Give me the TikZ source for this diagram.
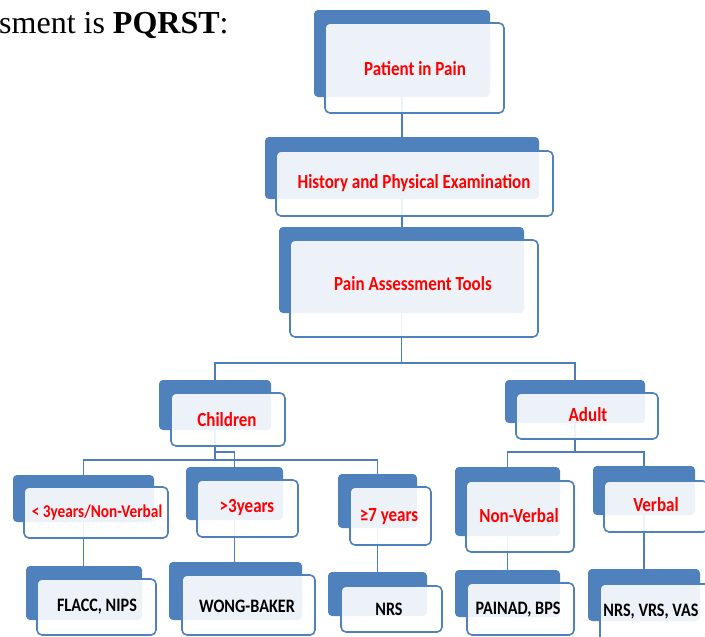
\documentclass[tikz,border=0pt]{standalone}
\usepackage{fontspec}
\setmainfont{Liberation Serif}
\newfontfamily\calfont{Carlito}
\usepackage{graphicx}
\usetikzlibrary{fit,backgrounds}
\definecolor{boxblue}{HTML}{4F81BD}
\definecolor{lineblue}{HTML}{4A7EBD}
\definecolor{txtred}{HTML}{FF0000}
\newcommand{\lab}[1]{\scalebox{0.85}[1]{#1}}
\begin{document}
\begin{tikzpicture}[x=1pt,y=-1pt,
  backbox/.style={fill=boxblue, draw=none, rounded corners=4pt, inner sep=0pt},
  frontbox/.style={fill=white, fill opacity=0.9, draw=boxblue, line width=1.6pt, rounded corners=5pt, inner sep=0pt},
  redlbl/.style={text=txtred, font=\calfont\bfseries\fontsize{20}{24}\selectfont, inner sep=0pt},
  smalllbl/.style={text=txtred, font=\calfont\bfseries\fontsize{18}{22}\selectfont, inner sep=0pt},
  blklbl/.style={text=black, font=\calfont\bfseries\fontsize{19}{23}\selectfont, inner sep=0pt},
  conn/.style={draw=lineblue, line width=1.8pt}]
\useasboundingbox (0,0) rectangle (705,637);
\clip (0,0) rectangle (705,637);

\node[anchor=base west, inner sep=0pt, font=\fontsize{32}{36}\selectfont] (title) at (-1,33)
  {sment is \textbf{PQRST}:};

% Patient in Pain
\node[backbox, fit={(314,10) (490,97)}] (pb) {};
\node[frontbox, fit={(325,23) (504,113)}] (pf) {};
\node[redlbl] (pt) at (415,69) {\lab{Patient in Pain}};
% History
\node[backbox, fit={(265,137) (539,199)}] (hb) {};
\node[frontbox, fit={(276,151) (553,216)}] (hf) {};
\node[redlbl] (ht) at (414,183) {\lab{History and Physical Examination}};
% Tools
\node[backbox, fit={(279,227) (524,313)}] (tb) {};
\node[frontbox, fit={(290,240) (538,337)}] (tf) {};
\node[redlbl] (tt) at (413,284) {\lab{Pain Assessment Tools}};
% Children
\node[backbox, fit={(159,380) (271,430)}] (cb) {};
\node[frontbox, fit={(171,393) (285,446)}] (cf) {};
\node[redlbl] (ct) at (227,420) {\lab{Children}};
% Adult
\node[backbox, fit={(505,380) (645,423)}] (adb) {};
\node[frontbox, fit={(516,393) (658,439)}] (adf) {};
\node[redlbl] (adt) at (588,415) {\lab{Adult}};
% < 3 years
\node[backbox, fit={(13,475) (154,522)}] (lb) {};
\node[frontbox, fit={(24,487) (168,538)}] (lf) {};
\node[smalllbl] (lt) at (97,513) {\lab{< 3years/Non-Verbal}};
% > 3 years
\node[backbox, fit={(186,467) (283,520)}] (gb) {};
\node[frontbox, fit={(197,480) (298,537)}] (gf) {};
\node[redlbl] (gt) at (247,508) {\lab{>3years}};
% >= 7 years
\node[backbox, fit={(338,474) (417,528)}] (sb) {};
\node[frontbox, fit={(350,487) (431,545)}] (sf) {};
\node[redlbl] (st) at (389,517) {\lab{≥7 years}};
% Non-Verbal
\node[backbox, fit={(455,467) (560,536)}] (nb) {};
\node[frontbox, fit={(466,481) (574,552)}] (nf) {};
\node[redlbl] (nt) at (519,516) {\lab{Non-Verbal}};
% Verbal
\node[backbox, fit={(593,466) (695,515)}] (vb) {};
\node[frontbox, fit={(604,481) (708,532)}] (vf) {};
\node[redlbl] (vt) at (656,505) {\lab{Verbal}};
% FLACC
\node[backbox, fit={(26,566) (142,620)}] (fb) {};
\node[frontbox, fit={(37,579) (156,635)}] (ff) {};
\node[blklbl] (ft) at (97,607) {\lab{FLACC, NIPS}};
% WONG-BAKER
\node[backbox, fit={(169,562) (302,620)}] (wb) {};
\node[frontbox, fit={(182,575) (315,635)}] (wf) {};
\node[blklbl] (wt) at (247,606) {\lab{WONG-BAKER}};
% NRS
\node[backbox, fit={(328,572) (427,616)}] (rb) {};
\node[frontbox, fit={(341,586) (442,632)}] (rf) {};
\node[blklbl] (rt) at (389,609) {\lab{NRS}};
% PAINAD
\node[backbox, fit={(455,570) (560,617)}] (qb) {};
\node[frontbox, fit={(467,583) (574,635)}] (qf) {};
\node[blklbl] (qt) at (518,610) {\lab{PAINAD, BPS}};
% NRS VRS VAS
\node[backbox, fit={(588,569) (700,621)}] (zb) {};
\node[frontbox, fit={(600,584) (716,642)}] (zf) {};
\node[blklbl] (zt) at (651,612) {\lab{NRS, VRS, VAS}};

\begin{scope}[on background layer]
\draw[conn] (pb.center) -- (pb.center |- hb.center);
\draw[conn] (hb.center) -- (hb.center |- tb.center);
\draw[conn] (tb.center) -- (tb.center |- 0,363);
\draw[conn] (cb.center) |- (adb.center |- 0,363) -- (adb.center);
\draw[conn] (cb.center) -- (cb.center |- 0,460);
\draw[conn] (lb.center) |- (sb.center |- 0,460) -- (sb.center);
\draw[conn] (cb.center) |- (gb.center |- 0,452) -- (gb.center);
\draw[conn] (adb.center) -- (adb.center |- 0,452);
\draw[conn] (nb.center) |- (vb.center |- 0,452) -- (vb.center);
\draw[conn] (lb.center) -- (lb.center |- fb.center);
\draw[conn] (gb.center) -- (gb.center |- wb.center);
\draw[conn] (sb.center) -- (sb.center |- rb.center);
\draw[conn] (nb.center) -- (nb.center |- qb.center);
\draw[conn] (vb.center) -- (vb.center |- zb.center);
\end{scope}
\end{tikzpicture}
\end{document}
